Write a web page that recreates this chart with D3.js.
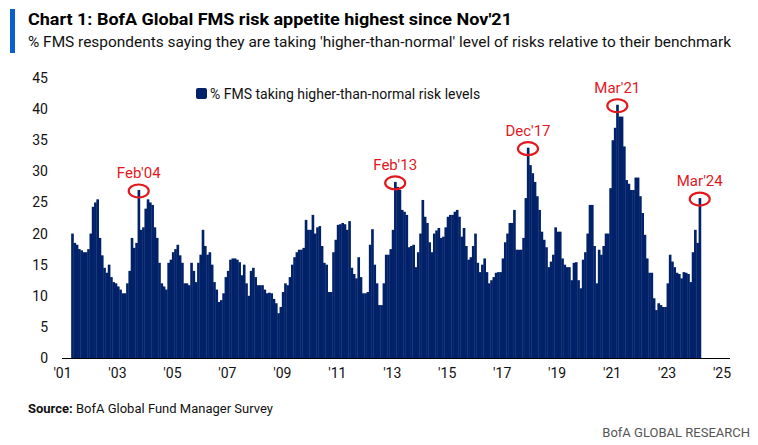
<!DOCTYPE html>
<html><head><meta charset="utf-8">
<script src="https://cdn.jsdelivr.net/npm/d3@7"></script>
<style>body{margin:0;background:#fff}svg{font-family:Roboto,"Noto Sans",sans-serif}</style>
</head><body><svg id="c" width="758" height="445"></svg>
<script>
// Monthly values, May 2001 .. Mar 2024
const y2001 = [20,18.5,18.2,17.5,17.3,17,17,17.5];
const y2002 = [20,24.3,25,25.5,19.3,16.5,14.5,13.7,15,13,12.2,12];
const y2003 = [11.5,11,10.4,10.4,12,14,19.3,17.7,18.5,27,20.6,21];
const y2004 = [24,25.5,25,24.6,21,19.3,15.3,12,11.5,11,15.3,15.8];
const y2005 = [17,17.5,18.2,16.5,15.3,12,12,11.7,15.3,14,12.2,15.3];
const y2006 = [16.6,20.6,18,16.6,17,15,12.2,11,9,9.3,10.4,13];
const y2007 = [14,15.8,16,16,15.8,15.4,13.3,15,12,10,14,14.5];
const y2008 = [13,11.7,11.7,11.7,11,10.4,10.5,10.4,9.5,8.8,7.2,8.2];
const y2009 = [10.6,12,11.7,13,15,16.2,17,17.4,17.4,17.7,22.2,20.6];
const y2010 = [20.6,23,20,21,21.2,18,15.3,15,10.6,10.6,17,19];
const y2011 = [21.4,21.5,21.7,21.5,20.6,22,14.5,13.5,12.8,16.2,13,10.4];
const y2012 = [10.4,10.6,18.2,20.7,15,12,8.5,8.5,12,16.6,16.6,17.5];
const y2013 = [20.6,28.3,27.5,27,23.8,23.5,23,17.8,18,18.2,14.6,17];
const y2014 = [20,25.4,22.7,21.7,18.6,17,20,20.5,20.9,19.3,19.5,21];
const y2015 = [22.7,23,23,23.5,23.8,22.7,19.5,20.9,18,15.8,16.2,18];
const y2016 = [20,15.3,13.8,15,16,13.8,12,12.5,13,13.7,13.8,13.8];
const y2017 = [16,18.6,20,21.7,21.7,23.8,17.4,17.4,17.4,19.3,25.7,33.8];
const y2018 = [31,29.7,28.3,26,23.8,20.3,19,17.8,14.6,15.5,16.6,21];
const y2019 = [20.3,20.3,16,15,14.6,14.6,12.5,15.3,15.4,12.5,11.2,15.8];
const y2020 = [17,20,24.6,24.6,18,12,17.4,16.6,18,20,20,27.3];
const y2021 = [35,37,40.7,38.8,38.8,34,28.6,28,27,27,29,29];
const y2022 = [26,23.3,19.8,16,13.7,13.7,9.6,7.7,8.8,8.5,8.2,8.2];
const y2023 = [12,16.6,15.5,14.6,13.7,13.5,12.8,13.8,13.7,13.5,12.2,17];
const y2024 = [20.6,18.5,25.7];
const startIndex = 4; // May 2001 (months since Jan 2001)
const values = [].concat(y2001,y2002,y2003,y2004,y2005,y2006,y2007,y2008,y2009,y2010,y2011,y2012,y2013,y2014,y2015,y2016,y2017,y2018,y2019,y2020,y2021,y2022,y2023,y2024);
const yTicks = [0,5,10,15,20,25,30,35,40,45];
const xTickYears = [2001,2003,2005,2007,2009,2011,2013,2015,2017,2019,2021,2023,2025];
const peaks = [{label:"Feb'04",i:33},{label:"Feb'13",i:145},{label:"Dec'17",i:203},{label:"Mar'21",i:242},{label:"Mar'24",i:278}];

const svg = d3.select("#c");
const x = d3.scaleLinear().domain([0,288]).range([62,721.5]);
const y = d3.scaleLinear().domain([0,45]).range([358,78]);
const navy = "#012169";

// header
svg.append("rect").attr("x",10).attr("y",9).attr("width",5).attr("height",44).attr("fill","#0a5fd0");
svg.append("text").attr("x",28).attr("y",25).attr("font-size",16).attr("font-weight",700).attr("fill","#000")
  .attr("textLength",484).attr("lengthAdjust","spacingAndGlyphs").text("Chart 1: BofA Global FMS risk appetite highest since Nov'21");
svg.append("text").attr("x",28).attr("y",47).attr("font-size",15).attr("fill","#111")
  .attr("textLength",703).attr("lengthAdjust","spacingAndGlyphs").text("% FMS respondents saying they are taking 'higher-than-normal' level of risks relative to their benchmark");

// bars
const data = values.map((v,k)=>({i:startIndex+k,v}));
const bw = x(1)-x(0);
svg.append("g").selectAll("rect").data(data).join("rect")
  .attr("x",d=>x(d.i)).attr("width",bw+0.35).attr("y",d=>y(d.v)).attr("height",d=>y(0)-y(d.v)).attr("fill",navy);

// axes
svg.append("line").attr("x1",62).attr("x2",730).attr("y1",358.5).attr("y2",358.5).attr("stroke","#000").attr("stroke-width",1);
const ya = svg.append("g").attr("transform","translate(48,0)").call(d3.axisLeft(y).tickValues(yTicks).tickSize(0).tickPadding(0));
ya.select(".domain").remove();
ya.selectAll("text").attr("font-size",14).attr("font-family","Roboto,sans-serif").attr("fill","#111");
const xa = svg.append("g").attr("transform","translate(0,368)").call(d3.axisBottom(x).tickValues(xTickYears.map(yr=>(yr-2001)*12)).tickSize(0).tickPadding(0)
  .tickFormat(v=>"'"+String(2001+v/12).slice(2)));
xa.select(".domain").remove();
xa.selectAll("text").attr("font-size",14).attr("font-family","Roboto,sans-serif").attr("fill","#111");

// legend
svg.append("rect").attr("x",196).attr("y",88).attr("width",11).attr("height",11).attr("rx",2).attr("fill",navy);
svg.append("text").attr("x",210).attr("y",99).attr("font-size",14).attr("fill","#111").text("% FMS taking higher-than-normal risk levels");

// peak annotations
const ann = svg.append("g").selectAll("g").data(peaks).join("g");
ann.append("ellipse").attr("cx",p=>x(p.i)+bw/2).attr("cy",p=>y(values[p.i-startIndex])+1).attr("rx",10).attr("ry",6.5)
  .attr("fill","none").attr("stroke","#e0191e").attr("stroke-width",2.2);
ann.append("text").attr("x",p=>x(p.i)+bw/2).attr("y",p=>y(values[p.i-startIndex])-12).attr("text-anchor","middle")
  .attr("font-size",15).attr("fill","#e0191e").text(p=>p.label);

// footer
const src = svg.append("text").attr("x",28).attr("y",413).attr("font-size",13).attr("fill","#111");
src.append("tspan").attr("font-weight",700).text("Source: ");
src.append("tspan").text("BofA Global Fund Manager Survey");
svg.append("text").attr("x",750).attr("y",437).attr("text-anchor","end").attr("font-size",13).attr("fill","#555").text("BofA GLOBAL RESEARCH");
</script></body></html>
